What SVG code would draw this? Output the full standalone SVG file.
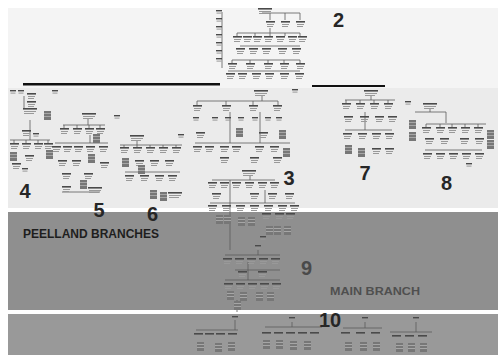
<svg xmlns="http://www.w3.org/2000/svg" width="498" height="355" viewBox="0 0 498 355">
<style>
.ln{fill:none;stroke:#5a5a5a;stroke-width:0.8}
.num{font-family:"Liberation Sans",Arial,sans-serif;font-weight:bold;font-size:20px;fill:#262626;text-anchor:middle}
.lbl{font-family:"Liberation Sans",Arial,sans-serif;font-weight:bold}
</style>
<defs>
<symbol id="c" overflow="visible"><rect width="9" height="1.6" fill="#4a4a4a"/><rect x="1" y="3" width="7" height="1" fill="#999"/><rect x="1" y="5" width="6" height="1" fill="#999"/></symbol>
<symbol id="s" overflow="visible"><rect width="6" height="1.4" fill="#4a4a4a"/><rect x="0.5" y="2.6" width="5" height="1" fill="#999"/></symbol>
<symbol id="d" overflow="visible"><rect width="7" height="9" fill="#777"/><rect y="2" width="7" height="0.7" fill="#bbb"/><rect y="5" width="7" height="0.7" fill="#bbb"/></symbol>
<symbol id="w" overflow="visible"><rect width="14" height="1.6" fill="#4a4a4a"/><rect x="1" y="3" width="12" height="1" fill="#999"/><rect x="1" y="5" width="10" height="1" fill="#999"/></symbol>
</defs>

<g id="background">
<rect width="498" height="355" fill="#ffffff"/>
<rect x="8" y="8" width="490" height="80" fill="#f4f4f4"/>
<rect x="8" y="88" width="490" height="120" fill="#ebebeb"/>
<rect x="8" y="212" width="490" height="98" fill="#8f8f8f"/>
<rect x="8" y="314" width="490" height="41" fill="#999999"/>
<rect x="23" y="83" width="197" height="2.5" fill="#111"/>
<rect x="312" y="85" width="73" height="2" fill="#111"/>
</g>

<g id="connectors">
<path class="ln" d="M262 13H300M270 13V20M285 13V20M300 13V20M222 12V68M237 33H300M237 33V36M255 33V36M270 28V36M285 33V36M300 33V36M240 46H300M232 60H300M232 60V63M250 60V63M268 60V63M284 60V63M300 60V63M228 71H300"/>
<path class="ln" d="M24 96V108M10 140H50M14 140V143M26 140V143M38 140V143M48 140V143M30 120V140"/>
<path class="ln" d="M88 119V125M63 125H105M64 125V128M77 125V128M89 125V128M100 125V128M55 143H108M90 135V143M62 192H100"/>
<path class="ln" d="M137 141V145M120 145H182M124 145V147M137 145V147M150 145V147M163 145V147M176 145V147M125 172H180"/>
<path class="ln" d="M262 96V101M197 101H278M197 101V105M226 101V105M253 101V105M278 101V105M195 143H290M230 112V143M260 112V143"/>
<path class="ln" d="M250 176V180M212 180H275M230 180V250M210 203H295M265 190V203"/>
<path class="ln" d="M258 250V255M225 255H280M235 270H280M225 280H280M248 262V280M237 300V312"/>
<path class="ln" d="M371 96V100M345 100H395M346 100V103M360 100V103M374 100V103M388 100V103M345 130H392M365 112V130"/>
<path class="ln" d="M430 109V112M415 112H446M446 112V123M426 124H486M426 124V127M440 124V127M452 124V127M465 124V127M478 124V127M425 150H482"/>
<path class="ln" d="M235 320V330M196 330H238M292 322V327M265 327H322M365 322V328M343 328H382M416 322V332M390 332H432"/>
</g>

<g id="tree2">
<use href="#s" x="216" y="10"/><use href="#s" x="216" y="18"/><use href="#s" x="216" y="26"/><use href="#s" x="216" y="34"/><use href="#s" x="216" y="42"/><use href="#s" x="216" y="50"/><use href="#s" x="216" y="58"/>
<use href="#w" x="258" y="8"/><use href="#c" x="266" y="21"/><use href="#c" x="281" y="21"/><use href="#c" x="296" y="21"/>
<use href="#c" x="233" y="36"/><use href="#c" x="243" y="36"/><use href="#c" x="253" y="36"/><use href="#c" x="264" y="36"/><use href="#c" x="276" y="36"/><use href="#c" x="288" y="36"/><use href="#c" x="298" y="36"/>
<use href="#c" x="236" y="48"/><use href="#c" x="249" y="48"/><use href="#c" x="262" y="48"/><use href="#c" x="278" y="48"/><use href="#c" x="292" y="48"/>
<use href="#c" x="228" y="63"/><use href="#c" x="246" y="63"/><use href="#c" x="264" y="63"/><use href="#c" x="280" y="63"/><use href="#c" x="296" y="63"/>
<use href="#c" x="226" y="73"/><use href="#c" x="238" y="73"/><use href="#c" x="252" y="73"/><use href="#c" x="265" y="73"/><use href="#c" x="280" y="73"/><use href="#c" x="295" y="73"/>
<text class="num" x="338.5" y="27">2</text>
</g>

<g id="tree4">
<use href="#s" x="10" y="90"/><use href="#s" x="18" y="90"/><use href="#c" x="27" y="93"/><use href="#c" x="27" y="101"/><use href="#s" x="52" y="90"/>
<use href="#w" x="23" y="108"/><use href="#d" x="44" y="111"/><use href="#c" x="22" y="130"/><use href="#s" x="33" y="133"/>
<use href="#c" x="10" y="143"/><use href="#c" x="22" y="143"/><use href="#c" x="34" y="143"/><use href="#c" x="44" y="143"/>
<use href="#d" x="10" y="152"/><use href="#c" x="25" y="155"/><use href="#c" x="12" y="163"/><use href="#s" x="22" y="168"/>
<text class="num" x="25" y="198">4</text>
</g>

<g id="tree5">
<use href="#w" x="82" y="113"/><use href="#s" x="114" y="115"/>
<use href="#c" x="60" y="128"/><use href="#c" x="73" y="128"/><use href="#c" x="85" y="128"/><use href="#c" x="96" y="128"/>
<use href="#d" x="93" y="134"/>
<use href="#c" x="52" y="146"/><use href="#c" x="63" y="146"/><use href="#c" x="74" y="146"/><use href="#c" x="86" y="146"/><use href="#c" x="99" y="146"/>
<use href="#d" x="46" y="150"/><use href="#d" x="88" y="154"/>
<use href="#c" x="58" y="160"/><use href="#c" x="72" y="160"/><use href="#c" x="100" y="162"/>
<use href="#c" x="62" y="173"/><use href="#c" x="84" y="173"/><use href="#d" x="80" y="180"/>
<use href="#c" x="62" y="186"/><use href="#w" x="88" y="187"/>
<text class="num" x="99" y="217">5</text>
</g>

<g id="tree6">
<use href="#w" x="130" y="135"/><use href="#s" x="178" y="134"/>
<use href="#c" x="120" y="147"/><use href="#c" x="133" y="147"/><use href="#c" x="146" y="147"/><use href="#c" x="159" y="147"/><use href="#c" x="172" y="147"/>
<use href="#d" x="122" y="158"/><use href="#c" x="135" y="160"/><use href="#c" x="150" y="160"/><use href="#c" x="165" y="160"/>
<use href="#c" x="125" y="175"/><use href="#c" x="140" y="175"/><use href="#c" x="155" y="175"/><use href="#c" x="168" y="175"/>
<use href="#d" x="138" y="165"/><use href="#d" x="150" y="190"/><use href="#d" x="160" y="192"/><use href="#w" x="168" y="192"/>
<text class="num" x="152.5" y="221">6</text>
</g>

<g id="tree3">
<use href="#w" x="254" y="90"/><use href="#s" x="292" y="89"/>
<use href="#c" x="193" y="105"/><use href="#c" x="222" y="105"/><use href="#c" x="249" y="105"/><use href="#c" x="273" y="105"/>
<use href="#s" x="193" y="117"/><use href="#s" x="212" y="117"/><use href="#s" x="225" y="117"/><use href="#s" x="238" y="117"/><use href="#s" x="252" y="117"/><use href="#s" x="265" y="117"/><use href="#s" x="276" y="117"/>
<use href="#d" x="236" y="128"/><use href="#d" x="279" y="130"/>
<use href="#c" x="196" y="132"/><use href="#c" x="259" y="132"/>
<use href="#c" x="193" y="146"/><use href="#c" x="205" y="146"/><use href="#c" x="220" y="146"/><use href="#c" x="232" y="146"/><use href="#c" x="255" y="146"/><use href="#c" x="270" y="146"/><use href="#d" x="283" y="148"/>
<use href="#c" x="220" y="157"/><use href="#c" x="250" y="157"/><use href="#c" x="273" y="157"/>
<use href="#w" x="242" y="170"/>
<use href="#c" x="208" y="182"/><use href="#c" x="220" y="182"/><use href="#c" x="232" y="182"/><use href="#c" x="245" y="182"/><use href="#c" x="258" y="182"/><use href="#c" x="270" y="182"/>
<use href="#c" x="212" y="193"/><use href="#c" x="250" y="193"/><use href="#c" x="268" y="193"/><use href="#c" x="285" y="193"/>
<use href="#c" x="208" y="205"/><use href="#c" x="222" y="205"/><use href="#c" x="236" y="205"/><use href="#c" x="250" y="205"/><use href="#c" x="264" y="205"/><use href="#c" x="278" y="205"/><use href="#c" x="290" y="205"/>
<use href="#d" x="216" y="215"/><use href="#d" x="224" y="215"/><use href="#d" x="238" y="217"/><use href="#d" x="248" y="217"/>
<use href="#c" x="262" y="213"/><use href="#c" x="275" y="213"/><use href="#c" x="286" y="213"/>
<use href="#d" x="266" y="226"/><use href="#d" x="274" y="226"/><use href="#d" x="284" y="226"/><use href="#s" x="260" y="236"/>
<text class="num" x="289" y="185">3</text>
</g>

<g id="tree9">
<use href="#s" x="255" y="245"/>
<use href="#c" x="223" y="258"/><use href="#c" x="235" y="258"/><use href="#c" x="247" y="258"/><use href="#c" x="259" y="258"/><use href="#c" x="271" y="258"/>
<use href="#c" x="238" y="271"/><use href="#c" x="258" y="271"/>
<use href="#c" x="224" y="283"/><use href="#c" x="236" y="283"/><use href="#c" x="248" y="283"/><use href="#c" x="260" y="283"/><use href="#c" x="272" y="283"/>
<use href="#d" x="227" y="291"/><use href="#d" x="240" y="292"/><use href="#d" x="256" y="292"/><use href="#d" x="267" y="292"/><use href="#d" x="234" y="301"/>
<text class="num" x="306.5" y="275" style="fill:#4a4a4a">9</text>
</g>

<g id="tree7">
<use href="#w" x="364" y="90"/><use href="#s" x="405" y="101"/>
<use href="#c" x="342" y="103"/><use href="#c" x="356" y="103"/><use href="#c" x="370" y="103"/><use href="#c" x="384" y="103"/>
<use href="#c" x="344" y="116"/><use href="#c" x="360" y="116"/><use href="#c" x="375" y="116"/><use href="#c" x="388" y="116"/>
<use href="#c" x="343" y="133"/><use href="#c" x="358" y="133"/><use href="#c" x="372" y="133"/><use href="#c" x="385" y="133"/>
<use href="#d" x="345" y="145"/><use href="#d" x="358" y="148"/><use href="#c" x="372" y="148"/><use href="#c" x="385" y="148"/>
<text class="num" x="365" y="180">7</text>
</g>

<g id="tree8">
<use href="#w" x="423" y="103"/>
<use href="#d" x="409" y="120"/><use href="#d" x="409" y="132"/>
<use href="#c" x="422" y="127"/><use href="#c" x="436" y="127"/><use href="#c" x="448" y="127"/><use href="#c" x="461" y="127"/><use href="#c" x="474" y="127"/>
<use href="#d" x="487" y="130"/><use href="#d" x="487" y="140"/>
<use href="#c" x="425" y="138"/><use href="#c" x="440" y="138"/><use href="#c" x="460" y="138"/><use href="#c" x="475" y="138"/>
<use href="#c" x="423" y="153"/><use href="#c" x="436" y="153"/><use href="#c" x="449" y="153"/><use href="#c" x="462" y="153"/><use href="#c" x="475" y="153"/>
<use href="#s" x="466" y="163"/>
<text class="num" x="446.5" y="190">8</text>
</g>

<g id="tree10">
<use href="#s" x="232" y="316"/>
<use href="#c" x="194" y="333"/><use href="#c" x="205" y="333"/><use href="#c" x="216" y="333"/><use href="#c" x="228" y="333"/>
<use href="#d" x="197" y="342"/><use href="#d" x="215" y="343"/><use href="#d" x="228" y="342"/>
<use href="#s" x="289" y="317"/>
<use href="#c" x="262" y="332"/><use href="#c" x="274" y="332"/><use href="#c" x="286" y="332"/><use href="#c" x="298" y="332"/><use href="#c" x="310" y="332"/>
<use href="#d" x="263" y="340"/><use href="#d" x="276" y="340"/><use href="#d" x="290" y="341"/><use href="#d" x="304" y="341"/>
<use href="#s" x="362" y="317"/>
<use href="#c" x="341" y="332"/><use href="#c" x="356" y="332"/><use href="#c" x="371" y="332"/>
<use href="#d" x="345" y="342"/><use href="#d" x="360" y="342"/><use href="#d" x="373" y="342"/>
<use href="#s" x="413" y="317"/>
<use href="#c" x="392" y="335"/><use href="#c" x="405" y="335"/><use href="#c" x="418" y="335"/>
<use href="#d" x="396" y="343"/><use href="#d" x="408" y="343"/><use href="#d" x="420" y="343"/>
<text class="num" x="330" y="327">10</text>
</g>

<g id="labels">
<text class="lbl" x="23" y="238" font-size="13" fill="#1e1e1e" textLength="136" lengthAdjust="spacingAndGlyphs">PEELLAND BRANCHES</text>
<text class="lbl" x="330" y="295" font-size="11" fill="#4f4f4f" textLength="90" lengthAdjust="spacingAndGlyphs">MAIN BRANCH</text>
</g>
</svg>
